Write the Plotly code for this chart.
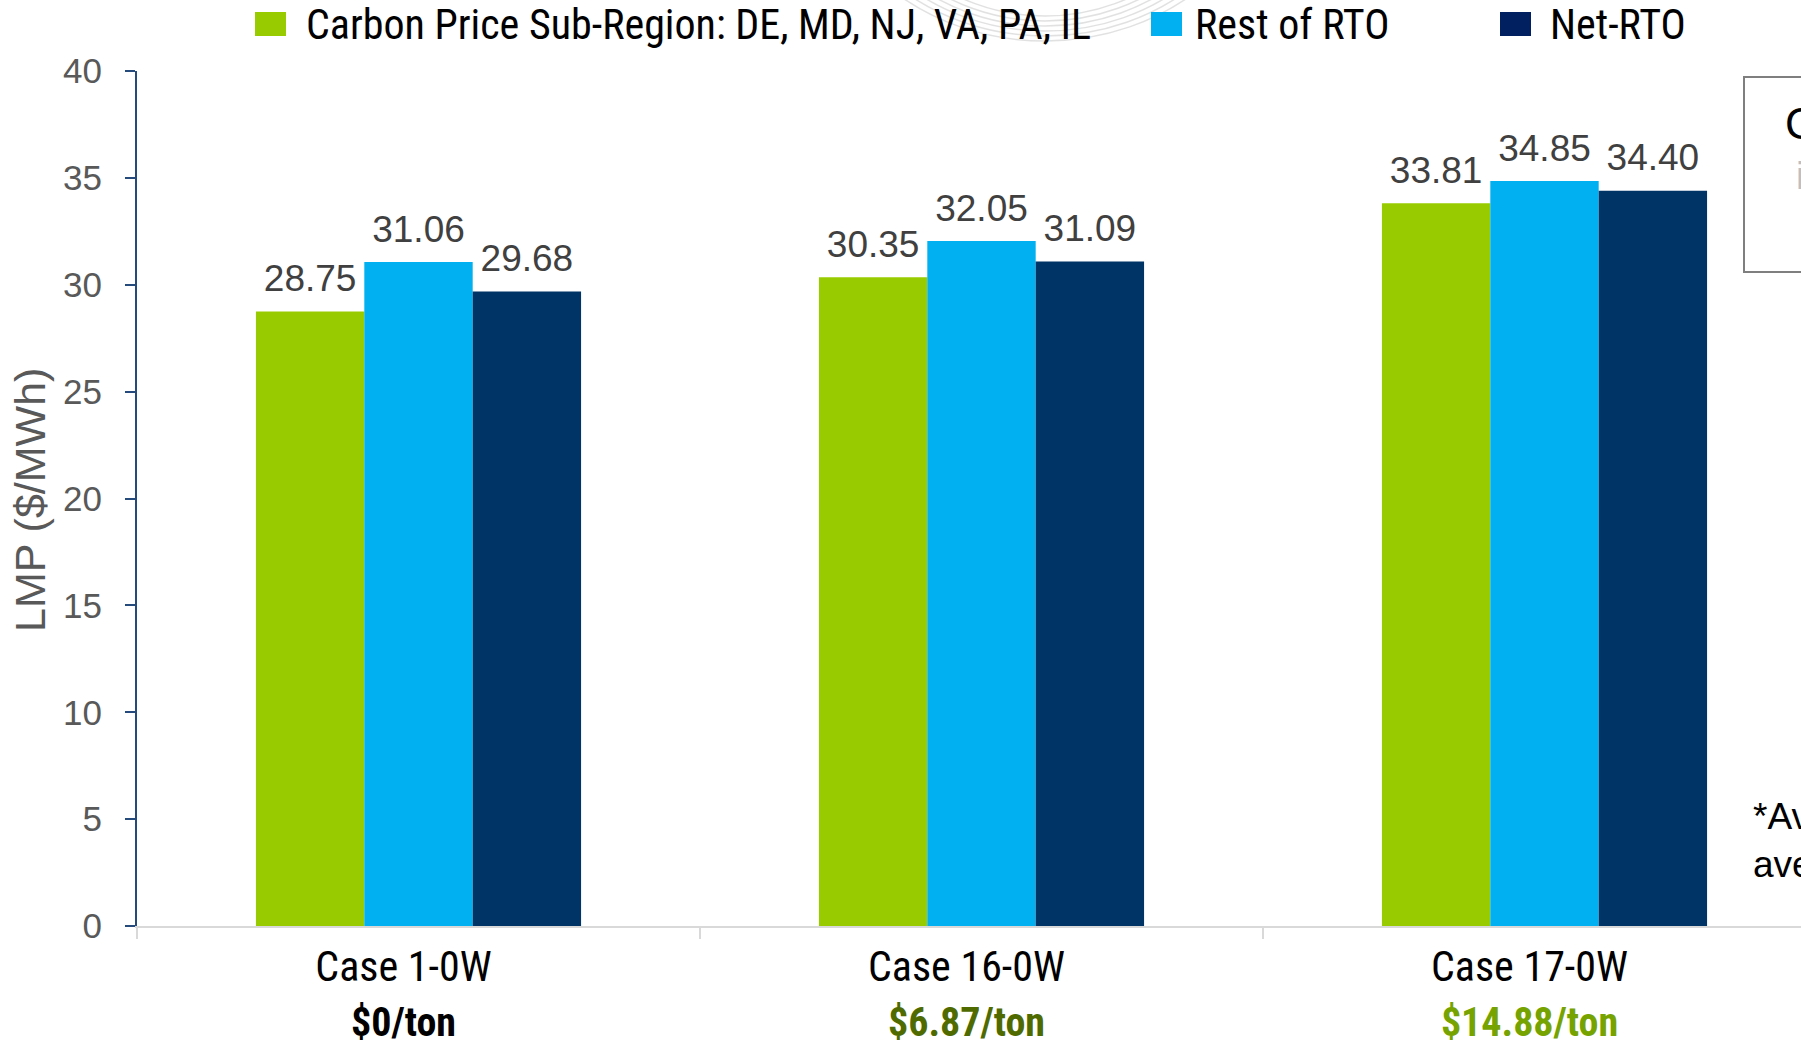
import plotly.graph_objects as go

# ---- data -------------------------------------------------------------
cases = ["Case 1-0W", "Case 16-0W", "Case 17-0W"]
carbon_prices = ["$0/ton", "$6.87/ton", "$14.88/ton"]
price_colors = ["#000000", "#4f6b00", "#76a300"]

series_names = [
    "Carbon Price Sub-Region: DE, MD, NJ, VA, PA, IL",
    "Rest of RTO",
    "Net-RTO",
]
sub_region = [28.75, 30.35, 33.81]
rest_of_rto = [31.06, 32.05, 34.85]
net_rto = [29.68, 31.09, 34.40]
series_values = [sub_region, rest_of_rto, net_rto]
series_colors = ["#99cc00", "#00b0f0", "#003366"]
legend_colors = ["#99cc00", "#00b0f0", "#002060"]

y_ticks = [0, 5, 10, 15, 20, 25, 30, 35, 40]

# ---- page geometry ----------------------------------------------------
W, H = 1801, 1041
L, R, T, B = 137, 0, 71, 115
PW, PH = W - L - R, H - T - B
CATEGORY_PX = 563.0
BARGAP = 0.4225


def px(x):
    """pixel column -> paper x"""
    return (x - L) / PW


def py(y):
    """pixel row -> paper y"""
    return (H - B - y) / PH


NARROW = "Roboto Condensed, Archivo Narrow, sans-serif"
SANS = "Liberation Sans, Arimo, Arial, sans-serif"

fig = go.Figure()

for name, vals, col in zip(series_names, series_values, series_colors):
    fig.add_trace(go.Bar(
        x=cases, y=vals, name=name,
        marker=dict(color=col, line=dict(width=0)),
        showlegend=False, hoverinfo="skip",
    ))

# value labels above each bar
for name, vals in zip(series_names, series_values):
    fig.add_trace(go.Scatter(
        x=cases, y=vals, mode="markers+text",
        text=[f"{v:.2f}" for v in vals],
        textposition="top center",
        textfont=dict(family=SANS, size=37, color="#404040"),
        marker=dict(size=16, opacity=0),
        cliponaxis=False, showlegend=False, hoverinfo="skip",
    ))

ticktext = [
    f"{c}<br><b><span style='color:{pc};font-size:40px'>{p}</span></b>"
    for c, p, pc in zip(cases, carbon_prices, price_colors)
]

fig.update_layout(
    width=W, height=H,
    margin=dict(l=L, r=R, t=T, b=B, pad=0, autoexpand=False),
    paper_bgcolor="white", plot_bgcolor="rgba(0,0,0,0)",
    barmode="group", bargap=BARGAP, bargroupgap=0,
    scattermode="group", scattergap=BARGAP,
    showlegend=False,
    xaxis=dict(
        type="category", range=[-0.5, -0.5 + PW / CATEGORY_PX],
        tickmode="array", tickvals=cases, ticktext=ticktext,
        tickson="boundaries", ticks="outside", ticklen=11, tickwidth=2,
        tickcolor="#d9d9d9", showline=True, linecolor="#d9d9d9", linewidth=2,
        showgrid=False, zeroline=False, automargin=False,
        tickfont=dict(family=NARROW, size=42, color="#000000"),
        ticklabelstandoff=3, ticklabelshift=-15,
    ),
    yaxis=dict(
        range=[0, 40], tickmode="array", tickvals=y_ticks,
        ticks="outside", ticklen=10, tickwidth=2, tickcolor="#254a7c",
        showline=True, linecolor="#254a7c", linewidth=2,
        showgrid=False, zeroline=False, automargin=False,
        tickfont=dict(family=SANS, size=35, color="#595959"),
        ticklabelstandoff=16,
    ),
)

annotations = [
    dict(text="LMP ($/MWh)", textangle=-90, x=px(30), y=py(500),
         xref="paper", yref="paper", xanchor="center", yanchor="middle",
         showarrow=False, font=dict(family=SANS, size=43, color="#595959")),
]
shapes = []

# faint swirl of the slide background behind the legend
for k in range(6):
    rx, ry = 190 + 8 * k, 176 + 5 * k
    cx, cy = 1045, -160
    shapes.append(dict(type="circle", xref="paper", yref="paper", layer="below",
                       x0=px(cx - rx), x1=px(cx + rx), y0=py(cy + ry), y1=py(cy - ry),
                       fillcolor="rgba(0,0,0,0)",
                       line=dict(color="rgba(170,170,170,0.35)", width=1.5)))

# legend row
legend_square_x = [255, 1151, 1500]
legend_text_x = [304, 1193, 1548]
for name, col, sx, tx in zip(series_names, legend_colors, legend_square_x, legend_text_x):
    shapes.append(dict(type="rect", xref="paper", yref="paper",
                       x0=px(sx), x1=px(sx + 31), y0=py(36), y1=py(12),
                       fillcolor=col, line=dict(width=0)))
    annotations.append(dict(text=name, x=px(tx), y=py(25), xref="paper", yref="paper",
                            xanchor="left", yanchor="middle", showarrow=False,
                            font=dict(family=NARROW, size=42, color="#000000")))

# call-out box running off the right edge
shapes.append(dict(type="rect", xref="paper", yref="paper",
                   x0=px(1744), x1=px(1860), y0=py(272), y1=py(77),
                   fillcolor="rgba(0,0,0,0)", line=dict(color="#7f7f7f", width=2)))
annotations.append(dict(text="C", x=px(1783), y=py(123), xref="paper", yref="paper",
                        xanchor="left", yanchor="middle", showarrow=False,
                        font=dict(family=SANS, size=44, color="#000000")))
annotations.append(dict(text="i", x=px(1794), y=py(176), xref="paper", yref="paper",
                        xanchor="left", yanchor="middle", showarrow=False,
                        font=dict(family=SANS, size=38, color="#bfbfbf")))
annotations.append(dict(text="*Av<br>ave", x=px(1751), y=py(840), xref="paper", yref="paper",
                        xanchor="left", yanchor="middle", align="left", showarrow=False,
                        font=dict(family=SANS, size=37, color="#000000")))

fig.update_layout(annotations=annotations, shapes=shapes)

fig.write_html("out.html")
